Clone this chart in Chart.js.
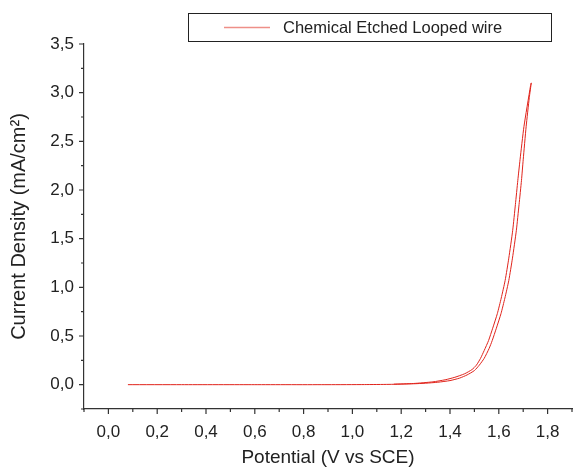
<!DOCTYPE html>
<html>
<head>
<meta charset="utf-8">
<script src="https://cdn.jsdelivr.net/npm/chart.js@4.4.0/dist/chart.umd.min.js"></script>
<style>
  html, body { margin: 0; padding: 0; background: #fff; }
  #wrap { width: 574px; height: 469px; }
</style>
</head>
<body>
<div id="wrap"><canvas id="polChart" width="574" height="469"></canvas></div>
<script>
// Forward sweep (V vs SCE, mA/cm2)
const fwdPotential = [0.08, 0.3, 0.6, 0.9, 1.05, 1.15, 1.25, 1.3, 1.35, 1.4, 1.44, 1.47, 1.5, 1.52, 1.54, 1.56, 1.573, 1.59, 1.609, 1.625, 1.641, 1.656, 1.672, 1.683, 1.693, 1.70, 1.712, 1.725, 1.733];
const fwdCurrent   = [0.0, 0.0, 0.0, 0.0, 0.001, 0.003, 0.009, 0.015, 0.025, 0.042, 0.068, 0.1, 0.145, 0.2, 0.27, 0.37, 0.453, 0.58, 0.73, 0.89, 1.071, 1.3, 1.586, 1.85, 2.1, 2.31, 2.65, 2.95, 3.1];
// Reverse sweep
const revPotential = [1.73, 1.703, 1.687, 1.678, 1.668, 1.657, 1.641, 1.626, 1.61, 1.594, 1.575, 1.558, 1.54, 1.525, 1.508, 1.49, 1.46, 1.42, 1.38, 1.33, 1.25, 1.17];
const revCurrent   = [3.07, 2.65, 2.31, 2.1, 1.85, 1.586, 1.3, 1.071, 0.89, 0.73, 0.58, 0.453, 0.35, 0.27, 0.2, 0.155, 0.112, 0.076, 0.05, 0.029, 0.012, 0.005];

const xTicks = [0, 0.2, 0.4, 0.6, 0.8, 1.0, 1.2, 1.4, 1.6, 1.8];
const xMinorTicks = [-0.1, 0.1, 0.3, 0.5, 0.7, 0.9, 1.1, 1.3, 1.5, 1.7, 1.9];
const yTicks = [0, 0.5, 1.0, 1.5, 2.0, 2.5, 3.0, 3.5];
const yMinorTicks = [-0.25, 0.25, 0.75, 1.25, 1.75, 2.25, 2.75, 3.25];

const points = fwdPotential.map((x, i) => ({ x: x, y: fwdCurrent[i] }))
    .concat(revPotential.map((x, i) => ({ x: x, y: revCurrent[i] })));

const fmt = v => Number(v).toFixed(1).replace('.', ',');
const axisColor = '#333';
const font = 'Liberation Sans, Arial, sans-serif';

// minor/major tick marks drawn outward plus a boxed legend
const decor = {
    id: 'decor',
    afterDraw(chart) {
        const ctx = chart.ctx;
        const xs = chart.scales.x, ys = chart.scales.y;
        const bottom = chart.chartArea.bottom, left = chart.chartArea.left;
        ctx.save();
        ctx.strokeStyle = axisColor;
        ctx.lineWidth = 1.2;
        ctx.beginPath();
        xTicks.forEach(v => { const p = xs.getPixelForValue(v); ctx.moveTo(p, bottom); ctx.lineTo(p, bottom + 5); });
        xMinorTicks.forEach(v => { const p = xs.getPixelForValue(v); ctx.moveTo(p, bottom); ctx.lineTo(p, bottom + 3); });
        yTicks.forEach(v => { const p = ys.getPixelForValue(v); ctx.moveTo(left, p); ctx.lineTo(left - 5, p); });
        yMinorTicks.forEach(v => { const p = ys.getPixelForValue(v); ctx.moveTo(left, p); ctx.lineTo(left - 3, p); });
        ctx.stroke();

        // legend
        ctx.lineWidth = 1;
        ctx.strokeStyle = '#222';
        ctx.strokeRect(188.5, 13.5, 363, 28);
        ctx.strokeStyle = '#ee8f88';
        ctx.lineWidth = 1.5;
        ctx.beginPath();
        ctx.moveTo(224, 27.5);
        ctx.lineTo(270, 27.5);
        ctx.stroke();
        ctx.fillStyle = '#222';
        ctx.font = '16.5px ' + font;
        ctx.textBaseline = 'middle';
        ctx.fillText(chart.data.datasets[0].label, 283, 28);
        ctx.restore();
    }
};

new Chart(document.getElementById('polChart'), {
    type: 'scatter',
    data: {
        datasets: [{
            label: 'Chemical Etched Looped wire',
            data: points,
            showLine: true,
            borderColor: '#e0231b',
            borderWidth: 1,
            pointRadius: 0,
            tension: 0.2
        }]
    },
    options: {
        responsive: false,
        animation: false,
        layout: { padding: { top: 44, right: 2, left: 0, bottom: 0 } },
        plugins: {
            legend: { display: false },
            tooltip: { enabled: false }
        },
        scales: {
            x: {
                type: 'linear',
                min: -0.1,
                max: 1.9,
                afterFit: s => { s.height = 60; },
                afterBuildTicks: s => { s.ticks = xTicks.map(v => ({ value: v })); },
                grid: { drawOnChartArea: false, drawTicks: false },
                border: { color: axisColor, width: 1.2 },
                ticks: { color: '#222', font: { family: font, size: 17 }, padding: 13, maxRotation: 0, callback: fmt },
                title: { display: true, text: 'Potential (V vs SCE)', color: '#222', font: { family: font, size: 19 }, padding: { top: 0, bottom: 0 } }
            },
            y: {
                type: 'linear',
                min: -0.25,
                max: 3.5,
                afterFit: s => { s.width = 84; },
                afterBuildTicks: s => { s.ticks = yTicks.map(v => ({ value: v })); },
                grid: { drawOnChartArea: false, drawTicks: false },
                border: { color: axisColor, width: 1.2 },
                ticks: { color: '#222', font: { family: font, size: 17 }, padding: 10, callback: fmt },
                title: { display: true, text: 'Current Density (mA/cm²)', color: '#222', font: { family: font, size: 20 }, padding: { top: 7, bottom: 0 } }
            }
        }
    },
    plugins: [decor]
});
</script>
</body>
</html>
